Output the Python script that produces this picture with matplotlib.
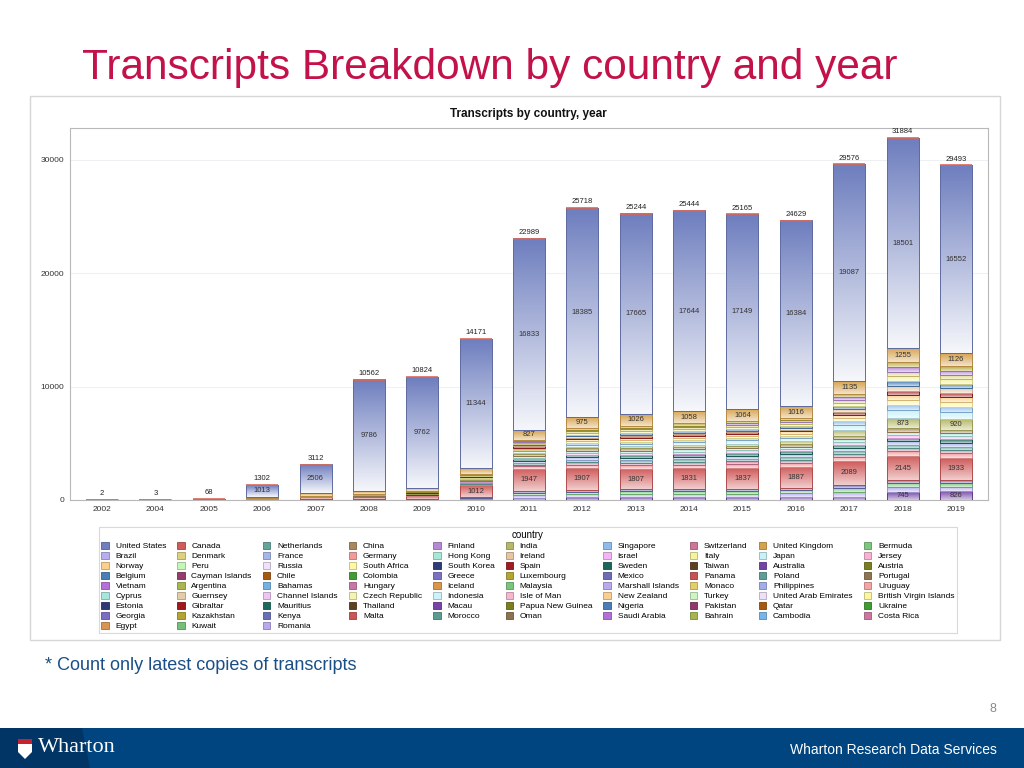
import numpy as np
import matplotlib
matplotlib.use('Agg')
import matplotlib.pyplot as plt
from matplotlib.patches import Rectangle, Patch, Polygon
from matplotlib.colors import to_rgb

plt.rcParams['font.family'] = ['Liberation Sans', 'DejaVu Sans']

# ---- data ----
years = ['2002', '2004', '2005', '2006', '2007', '2008', '2009', '2010', '2011',
         '2012', '2013', '2014', '2015', '2016', '2017', '2018', '2019']
totals = [2, 3, 68, 1302, 3112, 10562, 10824, 14171, 22989,
          25718, 25244, 25444, 25165, 24629, 29576, 31884, 29493]

# segments, bottom to top
australia   = [0, 0, 0, 0, 10, 20, 30, 60, 200, 230, 240, 250, 260, 270, 300, 745, 826]
brazil      = [0, 0, 0, 10, 15, 20, 30, 90, 250, 280, 290, 300, 310, 320, 400, 380, 360]
bermuda     = [0, 0, 0, 10, 15, 20, 25, 70, 200, 230, 240, 250, 260, 280, 380, 360, 340]
mexico      = [0, 0, 0, 10, 10, 20, 25, 65, 140, 160, 170, 170, 180, 190, 260, 260, 240]
canada      = [0, 0, 3, 80, 180, 180, 250, 1012, 1947, 1907, 1807, 1831, 1837, 1887, 2089, 2145, 1933]
germany     = [0, 0, 0, 10, 15, 30, 40, 90, 220, 290, 300, 310, 320, 330, 360, 400, 410]
switzerland = [0, 0, 0, 5, 10, 20, 30, 60, 160, 220, 230, 240, 240, 250, 270, 300, 310]
netherlands = [0, 0, 0, 5, 10, 20, 25, 60, 150, 200, 210, 220, 230, 230, 250, 280, 290]
france      = [0, 0, 0, 5, 10, 20, 25, 60, 170, 230, 240, 240, 250, 260, 280, 310, 320]
sweden      = [0, 0, 0, 5, 10, 15, 25, 60, 160, 220, 240, 250, 260, 260, 290, 320, 330]
israel      = [0, 0, 0, 5, 5, 15, 20, 50, 140, 190, 200, 210, 220, 220, 240, 260, 270]
hong_kong   = [0, 0, 0, 0, 5, 10, 15, 40, 120, 170, 180, 180, 190, 200, 220, 250, 260]
china       = [0, 0, 0, 5, 5, 10, 20, 80, 180, 230, 250, 250, 240, 250, 290, 310, 320]
india       = [0, 0, 0, 0, 10, 20, 20, 30, 80, 100, 120, 140, 180, 250, 500, 873, 920]
japan       = [0, 0, 0, 5, 10, 20, 30, 80, 170, 230, 250, 260, 270, 280, 500, 700, 650]
singapore   = [0, 0, 0, 2, 5, 10, 20, 50, 120, 170, 180, 190, 200, 200, 320, 480, 460]
south_africa = [0, 0, 0, 2, 5, 10, 15, 40, 100, 150, 160, 170, 170, 180, 300, 450, 430]
norway      = [0, 0, 0, 2, 5, 10, 15, 40, 110, 150, 160, 170, 180, 180, 280, 420, 400]
spain       = [0, 0, 0, 2, 3, 10, 15, 40, 100, 140, 150, 150, 160, 170, 260, 400, 380]
ireland     = [0, 0, 0, 2, 3, 8, 15, 40, 100, 140, 150, 160, 160, 170, 260, 420, 400]
belgium     = [0, 0, 0, 1, 3, 8, 12, 35, 90, 130, 140, 140, 150, 160, 250, 380, 360]
italy       = [0, 0, 0, 1, 3, 8, 15, 40, 110, 160, 170, 170, 180, 190, 290, 460, 440]
denmark     = [0, 0, 0, 1, 3, 8, 15, 40, 100, 140, 150, 160, 170, 170, 260, 400, 380]
finland     = [0, 0, 0, 1, 3, 7, 15, 35, 100, 140, 150, 150, 160, 170, 250, 380, 360]
luxembourg  = [0, 0, 0, 0, 3, 7, 15, 60, 112, 151, 176, 181, 175, 162, 255, 445, 426]
uk          = [0, 0, 5, 120, 250, 250, 300, 500, 827, 975, 1026, 1058, 1064, 1016, 1135, 1255, 1126]
us          = [2, 3, 60, 1013, 2506, 9786, 9762, 11344, 16833, 18385, 17665, 17644, 17149, 16384, 19087, 18501, 16552]

# legend entries (row by row, as in the picture)
legend_names = [
    'United States', 'Canada', 'Netherlands', 'China', 'Finland', 'India', 'Singapore', 'Switzerland', 'United Kingdom', 'Bermuda',
    'Brazil', 'Denmark', 'France', 'Germany', 'Hong Kong', 'Ireland', 'Israel', 'Italy', 'Japan', 'Jersey',
    'Norway', 'Peru', 'Russia', 'South Africa', 'South Korea', 'Spain', 'Sweden', 'Taiwan', 'Australia', 'Austria',
    'Belgium', 'Cayman Islands', 'Chile', 'Colombia', 'Greece', 'Luxembourg', 'Mexico', 'Panama', 'Poland', 'Portugal',
    'Vietnam', 'Argentina', 'Bahamas', 'Hungary', 'Iceland', 'Malaysia', 'Marshall Islands', 'Monaco', 'Philippines', 'Uruguay',
    'Cyprus', 'Guernsey', 'Channel Islands', 'Czech Republic', 'Indonesia', 'Isle of Man', 'New Zealand', 'Turkey', 'United Arab Emirates', 'British Virgin Islands',
    'Estonia', 'Gibraltar', 'Mauritius', 'Thailand', 'Macau', 'Papua New Guinea', 'Nigeria', 'Pakistan', 'Qatar', 'Ukraine',
    'Georgia', 'Kazakhstan', 'Kenya', 'Malta', 'Morocco', 'Oman', 'Saudi Arabia', 'Bahrain', 'Cambodia', 'Costa Rica',
    'Egypt', 'Kuwait', 'Romania']
legend_colors = [
    '#6f7fbf', '#d05b5b', '#62a59c', '#a9865b', '#b689d6', '#b6b868', '#8fbdeb', '#cf7596', '#d6a24e', '#7bc77b',
    '#b7aef1', '#ddd17e', '#a6b5ea', '#f39b9b', '#a8e6d8', '#e6c5a0', '#f3b5f3', '#f3f3a0', '#c8f1f8', '#f7b3d0',
    '#fbd08b', '#c4f7b6', '#f0e0f8', '#fff9a5', '#2f3c7a', '#a01c22', '#1d665d', '#5c4120', '#7244a6', '#7a7f20',
    '#4a80b8', '#943d69', '#a8570f', '#439c32', '#7c70c3', '#b3a531', '#6b6db5', '#c95151', '#5e9f95', '#8f7550',
    '#b56fd8', '#a9b74f', '#76b1e4', '#cb75a5', '#d9954c', '#77c77a', '#b9a9ee', '#e3cf6a', '#a0afe6', '#f5a3a3',
    '#a7e6dd', '#e5cca8', '#ecc5f3', '#f4f4b0', '#cdf2fb', '#f6b6d0', '#fbce92', '#ccf5c0', '#eee0f8', '#fdf6a0',
    '#2e3a78', '#a0181c', '#1b6a5c', '#5e4220', '#7743a8', '#7a7e1c', '#4a7fb5', '#90396a', '#a55a10', '#3f9b33',
    '#7a6fc2', '#b2a42e', '#6a70b8', '#cc5555', '#5b9c92', '#8c7250', '#b070d8', '#a8b450', '#78b5e8', '#cc779f',
    '#d89450', '#75c078', '#b8a8f0']
color_of = dict(zip(legend_names, legend_colors))

stack = [('Australia', australia), ('Brazil', brazil), ('Bermuda', bermuda), ('Mexico', mexico),
         ('Canada', canada), ('Germany', germany), ('Switzerland', switzerland),
         ('Netherlands', netherlands), ('France', france), ('Sweden', sweden), ('Israel', israel),
         ('Hong Kong', hong_kong), ('China', china), ('India', india), ('Japan', japan),
         ('Singapore', singapore), ('South Africa', south_africa), ('Norway', norway),
         ('Spain', spain), ('Ireland', ireland), ('Belgium', belgium), ('Italy', italy),
         ('Denmark', denmark), ('Finland', finland), ('Luxembourg', luxembourg),
         ('United Kingdom', uk), ('United States', us)]


def gradient(col, fade):
    c = np.array(to_rgb(col))
    t = np.linspace(0, fade, 40)[:, None]
    return (c * (1 - t) + t)[:, None, :]


def darker(col, f=0.8):
    return tuple(np.array(to_rgb(col)) * f)


fig = plt.figure(figsize=(10.24, 7.68), dpi=100)
W, H = 1024, 768


def fx(px):
    return px / W


def fy(py):
    return 1 - py / H


# slide decoration
fig.text(fx(82), fy(68), 'Transcripts Breakdown by country and year', color='#c3124a',
         fontsize=30.5, va='center', ha='left')
fig.patches.append(Rectangle((fx(30), fy(640)), fx(970), (640 - 96) / H, transform=fig.transFigure,
                             facecolor='white', edgecolor='#d6d6d6', lw=1, zorder=-5))
fig.text(fx(528), fy(114), 'Transcripts by country, year', fontsize=8.5, fontweight='bold',
         ha='center', va='center', color='#111111')
fig.text(fx(45), fy(665), '* Count only latest copies of transcripts', fontsize=13,
         color='#1a4f86', va='center')
fig.text(fx(993), fy(709), '8', fontsize=9, color='#8a8a8a', ha='center', va='center')
fig.patches.append(Rectangle((0, 0), 1, 40 / H, transform=fig.transFigure,
                             facecolor='#00457f', edgecolor='none'))
fig.patches.append(Polygon([(0, 0), (fx(90), 0), (fx(82), 40 / H), (0, 40 / H)],
                           closed=True, transform=fig.transFigure, facecolor='#003566', edgecolor='none'))
fig.patches.append(Polygon([(fx(18), fy(739)), (fx(32), fy(739)), (fx(32), fy(752)),
                            (fx(25), fy(759)), (fx(18), fy(752))], closed=True,
                           transform=fig.transFigure, facecolor='white', edgecolor='none'))
fig.patches.append(Rectangle((fx(18), fy(744)), fx(14), 5 / H, transform=fig.transFigure,
                             facecolor='#c8202e', edgecolor='none'))
fig.text(fx(38), fy(748), 'Wharton', fontsize=16, color='white', va='center',
         family=['Liberation Serif', 'DejaVu Serif'])
fig.text(fx(997), fy(750), 'Wharton Research Data Services', fontsize=10, color='white',
         ha='right', va='center')

# chart
ax = fig.add_axes([fx(70), fy(500), fx(988 - 70), (500 - 128) / H])
ax.set_zorder(2)
x = np.arange(len(years))
width = 0.6
bottom = np.zeros(len(years))
label_min = 740
for name, vals in stack:
    vals = np.array(vals, dtype=float)
    col = color_of[name]
    fade = 0.93 if name == 'United States' else 0.7
    bars = ax.bar(x, vals, width, bottom=bottom, facecolor='none',
                  edgecolor=darker(col, 0.85), linewidth=0.7, zorder=3)
    for rect in bars:
        if rect.get_height() <= 0:
            continue
        x0, y0 = rect.get_x(), rect.get_y()
        ax.imshow(gradient(col, fade), extent=[x0, x0 + rect.get_width(), y0, y0 + rect.get_height()],
                  aspect='auto', interpolation='bilinear', origin='upper', zorder=2)
    labels = [f'{int(v)}' if v >= label_min else '' for v in vals]
    ax.bar_label(bars, labels=labels, label_type='center', fontsize=5.5, color='#333333', zorder=4)
    bottom += vals
    top_bars = bars

ax.hlines(totals, x - width / 2, x + width / 2, color='#d96a5a', lw=1.2, zorder=4)
ax.bar_label(top_bars, labels=[str(t) for t in totals], padding=2, fontsize=5.5, color='#222222')

ax.set_xlim(-0.6, len(years) - 0.4)
ax.set_ylim(0, 32780)
ax.set_xticks(x)
ax.set_xticklabels(years)
ax.set_yticks([0, 10000, 20000, 30000])
ax.tick_params(length=0, labelsize=6, colors='#333333', pad=4)
ax.yaxis.grid(True, color='#eef0f4', lw=0.8)
ax.set_axisbelow(True)
for s in ax.spines.values():
    s.set_color('#b8b8b8')
    s.set_linewidth(0.8)

# legend, reordered so that it reads row by row
ncol = 10
nrows = int(np.ceil(len(legend_names) / ncol))
handles = []
names = []
for c in range(ncol):
    for r in range(nrows):
        i = r * ncol + c
        if i < len(legend_names):
            handles.append(Patch(facecolor=legend_colors[i], edgecolor=darker(legend_colors[i], 0.75), lw=0.6))
            names.append(legend_names[i])
leg = fig.legend(handles, names, ncol=ncol, loc='upper center', bbox_to_anchor=(fx(528), fy(523)),
                 fontsize=6, title='country', title_fontsize=7, frameon=True, fancybox=False,
                 edgecolor='#d0d0d0', handlelength=0.9, handleheight=0.9, handletextpad=0.8,
                 columnspacing=1.35, labelspacing=0.2, borderpad=0.35)
leg.get_frame().set_linewidth(0.8)

fig.savefig('out.png', dpi=100)
